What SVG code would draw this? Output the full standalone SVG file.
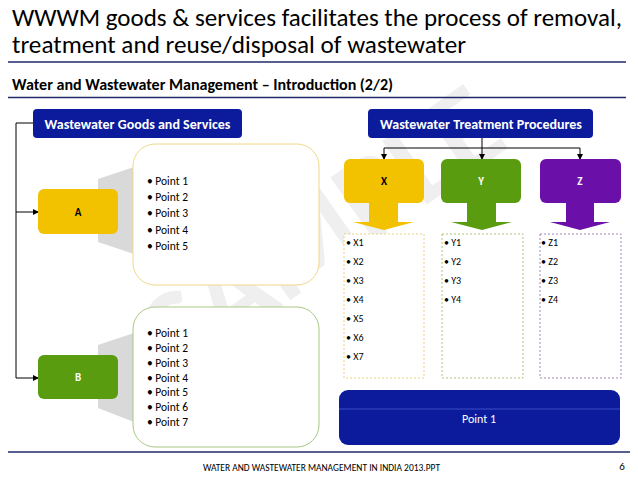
<svg xmlns="http://www.w3.org/2000/svg" width="638" height="479" viewBox="0 0 638 479">
<defs>
<style>
text{font-family:Carlito,"Liberation Sans",Arial,sans-serif;}
.hdr{fill:#0b1b9c;}
.hdrt{fill:#fff;font-size:14px;font-weight:bold;text-anchor:middle;}
.pt{font-size:11.5px;fill:#000;}
.li{font-size:10px;fill:#000;}
.conn{stroke:#000;stroke-width:1;fill:none;}
.rule{stroke:#1f2a6b;stroke-width:1.5;}
.lbl{font-size:11px;font-weight:bold;text-anchor:middle;}
</style>
<marker id="ah" markerWidth="6" markerHeight="6" refX="5" refY="3" orient="auto" markerUnits="userSpaceOnUse">
<path d="M0,0 L6,3 L0,6 z" fill="#000"/>
</marker>
</defs>
<rect width="638" height="479" fill="#fff"/>
<text x="345" y="262" transform="rotate(-35 345 262)" font-size="120" font-weight="bold" fill="#efefef" text-anchor="middle">SAMPLE</text>

<g id="title">
<text x="12" y="26" font-size="23.5" fill="#000" textLength="610" lengthAdjust="spacingAndGlyphs">WWWM goods &amp; services facilitates the process of removal,</text>
<text x="12" y="53" font-size="23.5" fill="#000" textLength="454" lengthAdjust="spacingAndGlyphs">treatment and reuse/disposal of wastewater</text>
<line x1="8" y1="62" x2="626" y2="62" class="rule"/>
<text x="12" y="90" font-size="16" font-weight="bold" fill="#000" textLength="381" lengthAdjust="spacingAndGlyphs">Water and Wastewater Management – Introduction (2/2)</text>
<line x1="8" y1="97.5" x2="626" y2="97.5" class="rule" stroke-width="2"/>
</g>

<g id="connectors">
<polyline points="33,123 16,123 16,378 38,378" class="conn" marker-end="url(#ah)"/>
<line x1="16" y1="212" x2="38" y2="212" class="conn" marker-end="url(#ah)"/>
<line x1="482" y1="138" x2="482" y2="159" class="conn" marker-end="url(#ah)"/>
<polyline points="384,148 580,148" class="conn"/>
<line x1="384" y1="148" x2="384" y2="159" class="conn" marker-end="url(#ah)"/>
<line x1="580" y1="148" x2="580" y2="159" class="conn" marker-end="url(#ah)"/>
</g>

<g id="goods-header">
<rect x="33" y="109" width="209" height="29" rx="4" class="hdr"/>
<text x="137.5" y="129" class="hdrt">Wastewater Goods and Services</text>
</g>
<g id="treatment-header">
<rect x="368" y="109" width="225" height="29" rx="4" class="hdr"/>
<text x="481" y="129" class="hdrt">Wastewater Treatment Procedures</text>
</g>

<g id="A-callout">
<polygon points="98,179 134,167 134,254 98,242" fill="#d9d9d9"/>
<rect x="133" y="144" width="186" height="141" rx="22" fill="#fff" stroke="#f0d888" stroke-width="1"/>
<text class="pt" x="147" y="185">• Point 1</text>
<text class="pt" x="147" y="201">• Point 2</text>
<text class="pt" x="147" y="217">• Point 3</text>
<text class="pt" x="147" y="234">• Point 4</text>
<text class="pt" x="147" y="250">• Point 5</text>
</g>
<g id="A">
<rect x="38" y="189" width="80" height="45" rx="6" fill="#f2c200"/>
<text x="78" y="216" class="lbl" fill="#000">A</text>
</g>

<g id="B-callout">
<polygon points="98,345 134,333 134,422 98,408" fill="#d9d9d9"/>
<rect x="133" y="307" width="186" height="140" rx="22" fill="#fff" stroke="#a8c883" stroke-width="1"/>
<text class="pt" x="147" y="337">• Point 1</text>
<text class="pt" x="147" y="352">• Point 2</text>
<text class="pt" x="147" y="367">• Point 3</text>
<text class="pt" x="147" y="382">• Point 4</text>
<text class="pt" x="147" y="396">• Point 5</text>
<text class="pt" x="147" y="411">• Point 6</text>
<text class="pt" x="147" y="426">• Point 7</text>
</g>
<g id="B">
<rect x="38" y="355" width="80" height="44" rx="6" fill="#5a9c0f"/>
<text x="78" y="381" class="lbl" fill="#fff">B</text>
</g>

<g id="X">
<rect x="344" y="159" width="80" height="44" rx="6" fill="#f2c200"/>
<text x="384" y="185" class="lbl" fill="#000">X</text>
<polygon points="369,203 398,203 398,222 414,222 384,230 353,222 369,222" fill="#f2c200"/>
</g>
<g id="Y">
<rect x="441" y="159" width="80" height="44" rx="6" fill="#5a9c0f"/>
<text x="481" y="185" class="lbl" fill="#fff">Y</text>
<polygon points="467,203 496,203 496,222 512,222 482,230 451,222 467,222" fill="#5a9c0f"/>
</g>
<g id="Z">
<rect x="540" y="159" width="81" height="44" rx="6" fill="#6a0fa8"/>
<text x="580" y="185" class="lbl" fill="#fff">Z</text>
<polygon points="566,203 594,203 594,222 610,222 580,230 550,222 566,222" fill="#6a0fa8"/>
</g>

<g id="X-list">
<rect x="344" y="234" width="80" height="144" fill="#fff" stroke="#e8c860" stroke-width="0.8" stroke-dasharray="2,2"/>
<text class="li" x="346" y="246">• X1</text>
<text class="li" x="346" y="265">• X2</text>
<text class="li" x="346" y="284">• X3</text>
<text class="li" x="346" y="303">• X4</text>
<text class="li" x="346" y="322">• X5</text>
<text class="li" x="346" y="341">• X6</text>
<text class="li" x="346" y="360">• X7</text>
</g>
<g id="Y-list">
<rect x="442" y="234" width="81" height="144" fill="#fff" stroke="#9bb45a" stroke-width="0.8" stroke-dasharray="2,2"/>
<text class="li" x="444" y="246">• Y1</text>
<text class="li" x="444" y="265">• Y2</text>
<text class="li" x="444" y="284">• Y3</text>
<text class="li" x="444" y="303">• Y4</text>
</g>
<g id="Z-list">
<rect x="540" y="234" width="81" height="144" fill="#fff" stroke="#8a64a8" stroke-width="0.8" stroke-dasharray="2,2"/>
<text class="li" x="541" y="246">• Z1</text>
<text class="li" x="541" y="265">• Z2</text>
<text class="li" x="541" y="284">• Z3</text>
<text class="li" x="541" y="303">• Z4</text>
</g>

<g id="point1-bar">
<rect x="339" y="390" width="281" height="55" rx="9" fill="#0b1b9c"/>
<line x1="339" y1="409" x2="620" y2="409" stroke="#4a5ad0" stroke-width="0.8"/>
<text x="479" y="423" font-size="12" fill="#fff" text-anchor="middle">Point 1</text>
</g>

<g id="footer">
<line x1="8" y1="452" x2="630" y2="452" class="rule"/>
<text x="203" y="471" font-size="9.5" fill="#000" textLength="237" lengthAdjust="spacingAndGlyphs">WATER AND WASTEWATER MANAGEMENT IN INDIA 2013.PPT</text>
<text x="622" y="470" font-size="11" fill="#000" text-anchor="middle">6</text>
</g>
</svg>
